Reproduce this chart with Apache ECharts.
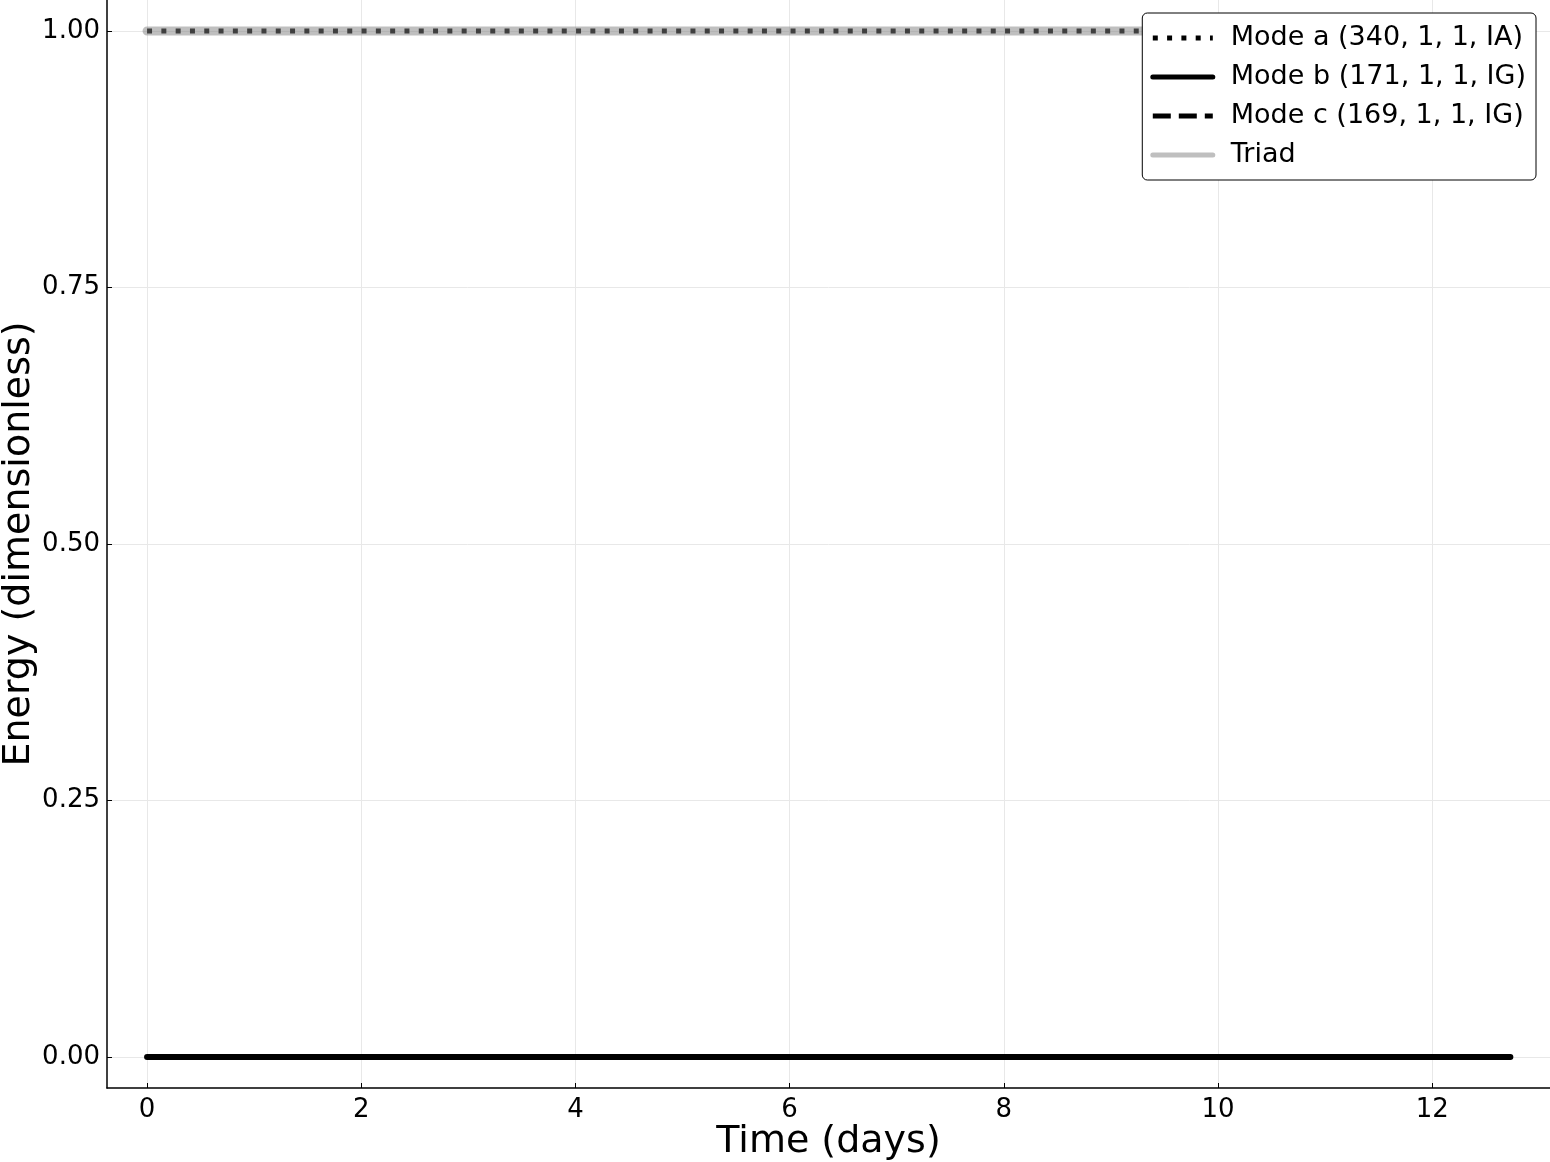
<!DOCTYPE html>
<html>
<head>
<meta charset="utf-8">
<script src="https://cdn.jsdelivr.net/npm/echarts@6/dist/echarts.min.js"></script>
<style>
    html, body { margin: 0; padding: 0; background: #fff; }
    #chart { width: 1550px; height: 1162px; }
</style>
</head>
<body>
<div id="chart"></div>
<script>
    // time samples (days)
    var times = [0, 1, 2, 3, 4, 5, 6, 7, 8, 9, 10, 11, 12, 12.73];
    // energies (flat over the whole run)
    var modeA = [1, 1, 1, 1, 1, 1, 1, 1, 1, 1, 1, 1, 1, 1];
    var modeB = [0, 0, 0, 0, 0, 0, 0, 0, 0, 0, 0, 0, 0, 0];
    var modeC = [0, 0, 0, 0, 0, 0, 0, 0, 0, 0, 0, 0, 0, 0];
    var triad = [1, 1, 1, 1, 1, 1, 1, 1, 1, 1, 1, 1, 1, 1];

    var xTicks = [0, 2, 4, 6, 8, 10, 12];
    var yTicks = [0, 0.25, 0.5, 0.75, 1];
    var names = ['Mode a (340, 1, 1, IA)', 'Mode b (171, 1, 1, IG)', 'Mode c (169, 1, 1, IG)', 'Triad'];

    var font = 'DejaVu Sans';

    function pairs(vals) {
        return times.map(function (t, i) {
            return [t, vals[i]];
        });
    }

    var chart = echarts.init(document.getElementById('chart'));

    chart.setOption({
        animation: false,
        backgroundColor: '#fff',
        textStyle: { fontFamily: font },
        grid: { left: 107, right: 0, top: 0, bottom: 74, outerBoundsMode: 'none', containLabel: false },
        legend: {
            orient: 'vertical',
            right: 14,
            top: 13,
            z: 20,
            padding: [10, 10, 10, 8],
            itemWidth: 60,
            itemHeight: 14,
            itemGap: 9,
            borderColor: '#000',
            borderWidth: 1,
            borderRadius: 5,
            backgroundColor: '#fff',
            itemStyle: { opacity: 0 },
            lineStyle: { width: 5 },
            textStyle: { fontFamily: font, fontSize: 27, color: '#000', lineHeight: 30, padding: [0, 0, 0, 13] },
            data: names
        },
        xAxis: {
            type: 'value',
            min: -0.374,
            max: 13.1,
            name: 'Time (days)',
            nameLocation: 'middle',
            nameGap: 35,
            nameMoveOverlap: false,
            nameTextStyle: { fontFamily: font, fontSize: 38, color: '#000' },
            axisLine: { onZero: false, lineStyle: { color: '#000', width: 1.5 } },
            axisTick: { inside: true, length: 5, customValues: xTicks, lineStyle: { color: '#000' } },
            axisLabel: { customValues: xTicks, fontFamily: font, fontSize: 26, color: '#000', margin: 9 },
            splitLine: { show: true, lineStyle: { color: '#e8e8e8', width: 1 } }
        },
        yAxis: {
            type: 'value',
            min: -0.0302,
            max: 1.0302,
            name: 'Energy (dimensionless)',
            nameLocation: 'middle',
            nameGap: 69,
            nameMoveOverlap: false,
            nameTextStyle: { fontFamily: font, fontSize: 38, color: '#000' },
            axisLine: { show: true, onZero: false, lineStyle: { color: '#000', width: 1.5 } },
            axisTick: { show: true, inside: true, length: 5, customValues: yTicks, lineStyle: { color: '#000' } },
            axisLabel: {
                customValues: yTicks,
                fontFamily: font,
                fontSize: 26,
                color: '#000',
                margin: 7,
                formatter: function (v) { return v.toFixed(2); }
            },
            splitLine: { show: true, lineStyle: { color: '#e8e8e8', width: 1 } }
        },
        series: [
            {
                name: names[1],
                type: 'line',
                data: pairs(modeB),
                showSymbol: false,
                symbol: 'none',
                itemStyle: { color: '#000' },
                lineStyle: { color: '#000', width: 6, cap: 'round' },
                z: 2
            },
            {
                name: names[2],
                type: 'line',
                data: pairs(modeC),
                showSymbol: false,
                symbol: 'none',
                itemStyle: { color: '#000' },
                lineStyle: { color: '#000', width: 6, type: [18, 8] },
                z: 3
            },
            {
                name: names[0],
                type: 'line',
                data: pairs(modeA),
                showSymbol: false,
                symbol: 'none',
                itemStyle: { color: '#000' },
                lineStyle: { color: '#000', width: 5, type: [5, 9.3] },
                z: 4
            },
            {
                name: names[3],
                type: 'line',
                data: pairs(triad),
                showSymbol: false,
                symbol: 'none',
                itemStyle: { color: '#999' },
                lineStyle: { color: 'rgba(128,128,128,0.5)', width: 9, cap: 'round' },
                z: 5
            }
        ]
    });
</script>
</body>
</html>
